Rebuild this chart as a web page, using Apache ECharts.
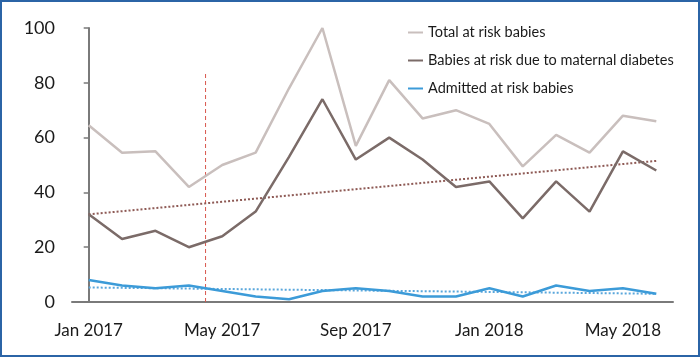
<!DOCTYPE html>
<html>
<head>
<meta charset="utf-8">
<script src="https://cdn.jsdelivr.net/npm/echarts@6/dist/echarts.min.js"></script>
<style>
html,body{margin:0;padding:0;background:#fff;}
#wrap{position:absolute;left:0;top:0;width:696px;height:353px;border:2px solid #2b64a6;background:#fff;}
#chart{width:696px;height:353px;}
</style>
</head>
<body>
<div id="wrap"><div id="chart"></div></div>
<script>
const months = ['Jan 2017','Feb 2017','Mar 2017','Apr 2017','May 2017','Jun 2017','Jul 2017','Aug 2017','Sep 2017','Oct 2017','Nov 2017','Dec 2017','Jan 2018','Feb 2018','Mar 2018','Apr 2018','May 2018','Jun 2018'];
const totalAtRisk = [64.5, 54.5, 55, 42, 50, 54.5, 78, 100, 57, 81, 67, 70, 65, 49.5, 61, 54.5, 68, 66];
const diabetesAtRisk = [32, 23, 26, 20, 24, 33, 53, 74, 52, 60, 52, 42, 44, 30.5, 44, 33, 55, 48];
const admittedAtRisk = [8, 6, 5, 6, 4, 2, 1, 4, 5, 4, 2, 2, 5, 2, 6, 4, 5, 3];
const diabetesTrend = [[0, 32], [17, 51.5]];
const admittedTrend = [[0, 5.3], [17, 3]];
const interventionLine = [[3.5, 0], [3.5, 84]];
const yTicks = [0, 20, 40, 60, 80, 100];

const chart = echarts.init(document.getElementById('chart'));
const font = 'Lato, "Open Sans", sans-serif';
chart.setOption({
  animation: false,
  backgroundColor: '#fff',
  textStyle: {fontFamily: font},
  grid: {left: 70, right: 25, top: 26, bottom: 53},
  legend: {
    orient: 'vertical', left: 401, top: 18, itemGap: 13,
    itemWidth: 15, itemHeight: 2, icon: 'rect',
    textStyle: {fontFamily: font, fontSize: 14.5, color: '#1a1a1a', lineHeight: 15},
    data: ['Total at risk babies', 'Babies at risk due to maternal diabetes', 'Admitted at risk babies']
  },
  xAxis: [{
    type: 'category', data: months, boundaryGap: true,
    axisLine: {lineStyle: {color: '#7a7a7a', width: 2}},
    axisTick: {interval: 3, length: 5, lineStyle: {color: '#7a7a7a', width: 1.5}},
    axisLabel: {interval: 3, fontSize: 17, color: '#1a1a1a', margin: 20, fontFamily: font},
    splitLine: {show: false}
  }, {
    type: 'value', min: -0.5, max: 17.5, show: false
  }],
  yAxis: {
    type: 'value', min: yTicks[0], max: yTicks[yTicks.length - 1], interval: 20,
    axisLine: {show: true, lineStyle: {color: '#7a7a7a', width: 2}},
    axisTick: {show: true, length: 5, lineStyle: {color: '#7a7a7a', width: 1.5}},
    axisLabel: {fontSize: 18, color: '#1a1a1a', margin: 17, fontFamily: font},
    splitLine: {show: false}
  },
  series: [
    {name: 'Intervention', type: 'line', xAxisIndex: 1, data: interventionLine, symbol: 'none', silent: true,
     lineStyle: {color: '#d9584e', width: 1, type: [4, 3]}, z: 1},
    {name: 'Total at risk babies', type: 'line', data: totalAtRisk, symbol: 'none',
     lineStyle: {color: '#c9bfbd', width: 2.5}, itemStyle: {color: '#c9bfbd'}, z: 3},
    {name: 'Babies at risk due to maternal diabetes', type: 'line', data: diabetesAtRisk, symbol: 'none',
     lineStyle: {color: '#7b6b68', width: 2.5}, itemStyle: {color: '#7b6b68'}, z: 3},
    {name: 'Admitted at risk babies', type: 'line', data: admittedAtRisk, symbol: 'none',
     lineStyle: {color: '#3c9bd8', width: 2.5}, itemStyle: {color: '#3c9bd8'}, z: 4},
    {name: 'Diabetes trend', type: 'line', xAxisIndex: 1, data: diabetesTrend, symbol: 'none', silent: true,
     lineStyle: {color: '#8e5a55', width: 2, type: [2, 2]}, z: 2},
    {name: 'Admitted trend', type: 'line', xAxisIndex: 1, data: admittedTrend, symbol: 'none', silent: true,
     lineStyle: {color: '#5aa7dc', width: 2, type: [2, 2]}, z: 2}
  ]
});
</script>
</body>
</html>
